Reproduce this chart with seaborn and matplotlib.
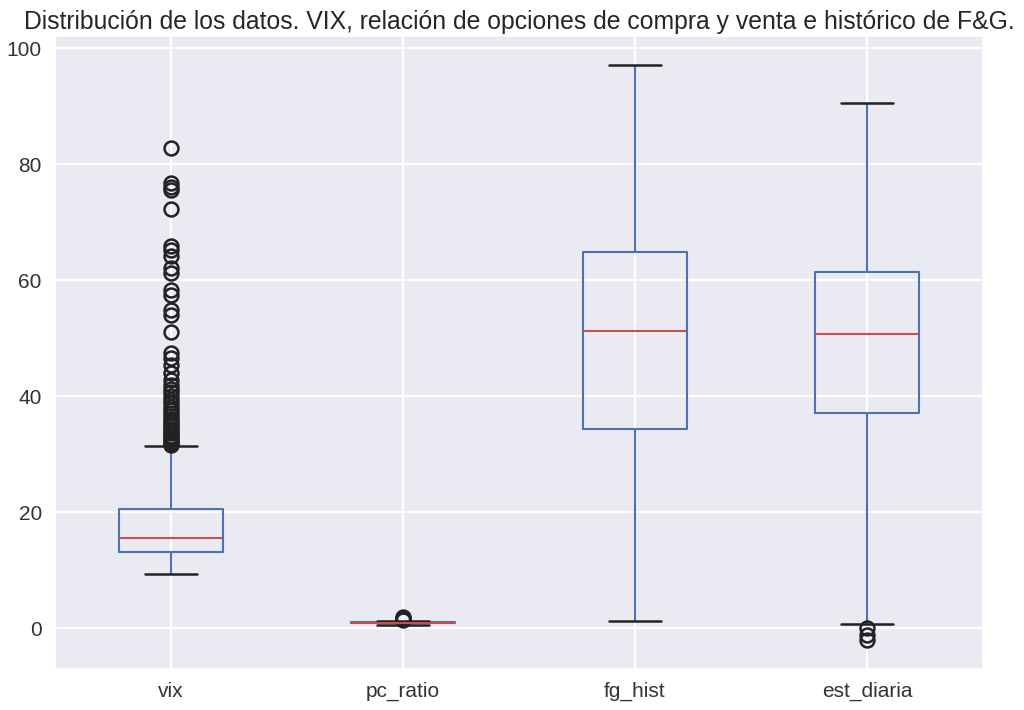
import numpy as np
import pandas as pd
import matplotlib
matplotlib.use("Agg")
import matplotlib.pyplot as plt
import seaborn as sns

# ---- data ----
variables = ["vix", "pc_ratio", "fg_hist", "est_diaria"]

# five-number summaries: whisker low, Q1, median, Q3, whisker high
vix_summary = [9.4, 13.2, 15.6, 20.5, 31.4]
pc_ratio_summary = [0.6, 0.85, 0.95, 1.05, 1.3]
fg_hist_summary = [1.2, 34.3, 51.2, 64.8, 97.1]
est_diaria_summary = [0.8, 37.2, 50.7, 61.5, 90.5]

# outliers
vix_outliers = [82.8, 76.7, 76.1, 75.6, 72.2, 65.9, 65.2, 64.1, 62.1, 61.2,
                58.3, 57.5, 54.9, 54.0, 51.1, 47.4, 46.6, 45.4, 44.0,
                42.8, 42.0, 41.3, 40.7, 40.0, 39.4, 38.8, 38.2, 37.6, 37.1,
                36.6, 36.1, 35.6, 35.2, 34.8, 34.4, 34.0, 33.6, 33.2, 32.9,
                32.6, 32.3, 32.0, 31.8, 31.6]
pc_ratio_outliers = [1.45, 1.6, 1.75, 1.9]
fg_hist_outliers = []
est_diaria_outliers = [0.0, -1.2, -2.0]

summaries = [vix_summary, pc_ratio_summary, fg_hist_summary, est_diaria_summary]
outliers = [vix_outliers, pc_ratio_outliers, fg_hist_outliers, est_diaria_outliers]

# weight of each quartile level when rebuilding observations
quartile_weight = 100

rows = []
for name, summ, outs in zip(variables, summaries, outliers):
    lo, q1, med, q3, hi = summ
    vals = [lo] + [q1] * quartile_weight + [med] * quartile_weight + \
           [q3] * quartile_weight + [hi] + list(outs)
    rows += [(name, v) for v in vals]
df = pd.DataFrame(rows, columns=["variable", "value"])

# ---- style ----
sns.set_theme(style="darkgrid", rc={"grid.linewidth": 1.6})
plt.rcParams["font.family"] = ["Liberation Sans", "DejaVu Sans"]

box_blue = "#4C72B0"
median_red = "#C44E52"

fig = plt.figure(figsize=(10.24, 7.10), dpi=100)
ax = fig.add_axes([55 / 1024, 1 - 669 / 710, (983 - 55) / 1024, (669 - 36) / 710])

sns.boxplot(
    data=df, x="variable", y="value", order=variables, ax=ax,
    fill=False, width=0.45, gap=0, linewidth=1.5, whis=1.5,
    boxprops=dict(color=box_blue, linewidth=1.5),
    whiskerprops=dict(color=box_blue, linewidth=1.5),
    capprops=dict(color="#222222", linewidth=1.8),
    medianprops=dict(color=median_red, linewidth=1.5),
    flierprops=dict(marker="o", markerfacecolor="none", markeredgecolor="#222222",
                    markersize=10, markeredgewidth=1.8),
)

ax.xaxis.grid(True)
ax.set_xlim(-0.5, 3.5)
ax.set_ylim(-7.0, 102.1)
ax.set_yticks([0, 20, 40, 60, 80, 100])
ax.set_xlabel("")
ax.set_ylabel("")
ax.tick_params(axis="both", labelsize=15, colors="#333333")
ax.set_title("Distribución de los datos. VIX, relación de opciones de compra y venta e histórico de F&G.",
             fontsize=17.8, color="#262626", pad=5)

fig.savefig("out.png", dpi=100)
